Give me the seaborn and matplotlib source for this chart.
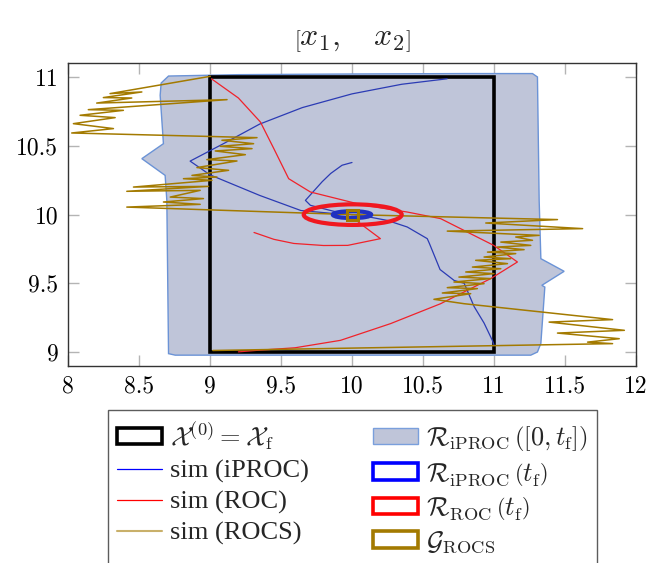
import matplotlib
matplotlib.use("Agg")
import matplotlib.pyplot as plt
import seaborn as sns
from matplotlib.patches import Polygon, Ellipse, Rectangle, Patch
from matplotlib.lines import Line2D
from matplotlib.ticker import FixedLocator, FixedFormatter

# reachable set hull R_iPROC([0, tf])
hull_x = [8.708, 9.2, 10.0, 10.8, 11.271, 11.306, 11.318, 11.33, 11.494, 11.337, 11.358, 11.33,
          11.306, 11.259, 8.755, 8.708, 8.696, 8.684, 8.520, 8.672, 8.649, 8.656]
hull_y = [11.010, 11.02, 11.025, 11.028, 11.028, 11.003, 10.104, 9.679, 9.587, 9.485, 9.472, 9.062,
          8.999, 8.976, 8.976, 8.987, 10.104, 10.286, 10.408, 10.517, 10.870, 10.959]

# initial set X0 = Xf
x0_lo = [9.0, 9.0]
x0_hi = [11.0, 11.0]

# sim (iPROC)
iproc_a_x = [10.67, 10.35, 10.0, 9.65, 9.35, 9.1, 8.86, 9.0, 9.35, 9.64, 9.85, 10.0]
iproc_a_y = [10.99, 10.95, 10.88, 10.78, 10.66, 10.52, 10.39, 10.29, 10.14, 10.03, 10.01, 10.0]
iproc_b_x = [10.0, 9.93, 9.85, 9.79, 9.672, 9.707, 9.85, 9.97]
iproc_b_y = [10.38, 10.36, 10.3, 10.24, 10.104, 10.068, 10.03, 10.0]
iproc_c_x = [10.0, 10.06, 10.248, 10.389, 10.53, 10.545, 10.62, 10.72, 10.79, 10.86, 10.93, 10.99, 11.0]
iproc_c_y = [10.0, 9.995, 9.958, 9.91, 9.825, 9.79, 9.6, 9.52, 9.5, 9.33, 9.21, 9.08, 9.05]

# sim (ROC)
roc_a_x = [9.01, 9.2, 9.355, 9.45, 9.554, 9.707, 10.083, 10.389, 10.624, 10.998, 11.165, 10.977,
           10.624, 10.272, 9.919, 9.6, 9.331, 9.2]
roc_a_y = [10.99, 10.85, 10.675, 10.48, 10.262, 10.165, 10.068, 10.019, 9.971, 9.776, 9.655, 9.534,
           9.351, 9.206, 9.084, 9.03, 9.011, 9.0]
roc_b_x = [9.31, 9.45, 9.59, 9.8, 9.97, 10.2, 10.09, 10.04]
roc_b_y = [9.87, 9.82, 9.79, 9.775, 9.776, 9.825, 9.91, 9.95]

# sim (ROCS)
rocs_l_x = [9.002, 8.296, 8.52, 8.249, 8.449, 8.202, 9.12, 8.143, 8.39, 8.085, 8.332, 8.038, 8.32,
            8.026, 9.331, 9.084, 9.307, 9.072, 9.296, 9.037, 9.249, 8.978, 9.19, 8.908, 9.131,
            8.873, 9.049, 8.813, 9.014, 8.461, 8.99, 8.414, 8.931, 8.72, 8.954, 8.672, 8.931,
            8.414, 10.0]
rocs_l_y = [11.008, 10.882, 10.894, 10.853, 10.85, 10.813, 10.838, 10.765, 10.76, 10.724, 10.707,
            10.663, 10.627, 10.595, 10.561, 10.542, 10.517, 10.498, 10.481, 10.464, 10.437, 10.401,
            10.391, 10.343, 10.323, 10.286, 10.274, 10.262, 10.25, 10.201, 10.206, 10.17, 10.177,
            10.128, 10.117, 10.092, 10.075, 10.055, 10.0]
rocs_r_x = [10.0, 11.447, 10.942, 11.624, 10.671, 11.318, 11.153, 11.271, 11.048, 11.259, 11.024,
            11.212, 10.954, 11.153, 10.93, 11.118, 10.871, 11.095, 10.848, 11.048, 10.801, 11.0,
            10.753, 10.977, 10.718, 10.93, 10.671, 10.883, 10.636, 10.836, 10.577, 10.789, 11.835,
            11.388, 11.918, 11.447, 11.882, 11.659, 11.835, 9.02]
rocs_r_y = [10.0, 9.964, 9.939, 9.898, 9.88, 9.849, 9.837, 9.813, 9.8, 9.776, 9.764, 9.745, 9.727,
            9.716, 9.691, 9.679, 9.667, 9.643, 9.618, 9.606, 9.582, 9.57, 9.545, 9.534, 9.509,
            9.497, 9.468, 9.461, 9.429, 9.424, 9.383, 9.351, 9.235, 9.217, 9.157, 9.137, 9.096,
            9.071, 9.06, 9.01]

# final sets
roc_set = [10.005, 10.0, 0.69, 0.15]     # cx, cy, width, height
iproc_set = [10.0, 10.0, 0.27, 0.05]
g_rocs = [9.966, 9.958, 10.042, 10.036]  # x0, y0, x1, y1

x_ticks = [8, 8.5, 9, 9.5, 10, 10.5, 11, 11.5, 12]
x_tick_labels = ["8", "8.5", "9", "9.5", "10", "10.5", "11", "11.5", "12"]
y_ticks = [9, 9.5, 10, 10.5, 11]
y_tick_labels = ["9", "9.5", "10", "10.5", "11"]

sns.set_theme(style="ticks")
plt.rcParams['font.family'] = ['cmr10']
plt.rcParams['mathtext.fontset'] = 'cm'
plt.rcParams['axes.unicode_minus'] = False

C_FILL = '#bfc5d9'
C_EDGE = '#6b93d6'
C_BLUE = '#2b3bb4'
C_RED = '#f0222a'
C_GOLD = '#a37a00'

fig = plt.figure(figsize=(6.7, 5.63), dpi=100)
ax = fig.add_axes([68 / 670, 1 - 366 / 563, (636 - 68) / 670, (366 - 63) / 563])

ax.add_patch(Polygon(list(zip(hull_x, hull_y)), closed=True, facecolor=C_FILL,
                     edgecolor=C_EDGE, lw=1, zorder=1))
ax.add_patch(Rectangle((x0_lo[0], x0_lo[1]), x0_hi[0] - x0_lo[0], x0_hi[1] - x0_lo[1],
                       fill=False, edgecolor='black', lw=2.6, zorder=2))

for xs, ys in [(iproc_a_x, iproc_a_y), (iproc_b_x, iproc_b_y), (iproc_c_x, iproc_c_y)]:
    sns.lineplot(x=xs, y=ys, sort=False, estimator=None, color=C_BLUE, lw=0.9, ax=ax, zorder=3)
for xs, ys in [(roc_a_x, roc_a_y), (roc_b_x, roc_b_y)]:
    sns.lineplot(x=xs, y=ys, sort=False, estimator=None, color=C_RED, lw=0.9, ax=ax, zorder=3)
for xs, ys in [(rocs_l_x, rocs_l_y), (rocs_r_x, rocs_r_y)]:
    sns.lineplot(x=xs, y=ys, sort=False, estimator=None, color=C_GOLD, lw=1.1, ax=ax, zorder=4)

ax.add_patch(Ellipse((iproc_set[0], iproc_set[1]), iproc_set[2], iproc_set[3], fill=False,
                     edgecolor='#2030c0', lw=3, zorder=5))
ax.add_patch(Ellipse((roc_set[0], roc_set[1]), roc_set[2], roc_set[3], fill=False,
                     edgecolor='#f01820', lw=3, zorder=5))
ax.add_patch(Rectangle((g_rocs[0], g_rocs[1]), g_rocs[2] - g_rocs[0], g_rocs[3] - g_rocs[1],
                       fill=False, edgecolor=C_GOLD, lw=2.2, zorder=6))

ax.set_xlim(8, 12)
ax.set_ylim(8.897, 11.105)
ax.xaxis.set_major_locator(FixedLocator(x_ticks))
ax.xaxis.set_major_formatter(FixedFormatter(x_tick_labels))
ax.yaxis.set_major_locator(FixedLocator(y_ticks))
ax.yaxis.set_major_formatter(FixedFormatter(y_tick_labels))
ax.tick_params(direction='in', top=True, right=True, length=8, width=1, color='#b4b4b4',
               labelsize=17, labelcolor='black', pad=7)
for s in ax.spines.values():
    s.set_color('#333333')
    s.set_linewidth(1)
ax.set_xlabel("")
ax.set_ylabel("")

fig.text(352 / 670, 1 - 40 / 563, r"$\left[x_1,\quad x_2\right]$", ha='center', va='center',
         fontsize=23)

handles = [
    Patch(facecolor='white', edgecolor='black', lw=2.6),
    Line2D([], [], color='blue', lw=0.9),
    Line2D([], [], color='red', lw=0.9),
    Line2D([], [], color='#c9b06a', lw=1.5),
    Patch(facecolor=C_FILL, edgecolor='#7a9fdc', lw=1),
    Patch(facecolor='white', edgecolor='blue', lw=2.6),
    Patch(facecolor='white', edgecolor='red', lw=2.6),
    Patch(facecolor='white', edgecolor=C_GOLD, lw=2.6),
]
labels = [
    r"$\mathcal{X}^{(0)} = \mathcal{X}_\mathrm{f}$",
    "sim (iPROC)",
    "sim (ROC)",
    "sim (ROCS)",
    r"$\mathcal{R}_\mathrm{iPROC}\,\left(\left[0, t_\mathrm{f}\right]\right)$",
    r"$\mathcal{R}_\mathrm{iPROC}\,\left(t_\mathrm{f}\right)$",
    r"$\mathcal{R}_\mathrm{ROC}\,\left(t_\mathrm{f}\right)$",
    r"$\mathcal{G}_\mathrm{ROCS}$",
]
leg = fig.legend(handles, labels, loc='upper left',
                 bbox_to_anchor=(108 / 670, 0, 489 / 670, 1 - 410 / 563), mode='expand',
                 ncol=2, frameon=True, fancybox=False, edgecolor='#333333',
                 prop={'family': 'Liberation Serif', 'size': 19}, handlelength=1.7,
                 handleheight=0.6, labelspacing=0.3, columnspacing=1.7, borderpad=0.35,
                 handletextpad=0.3, borderaxespad=0)
leg.get_frame().set_linewidth(1)

fig.savefig("out.png", dpi=100)
